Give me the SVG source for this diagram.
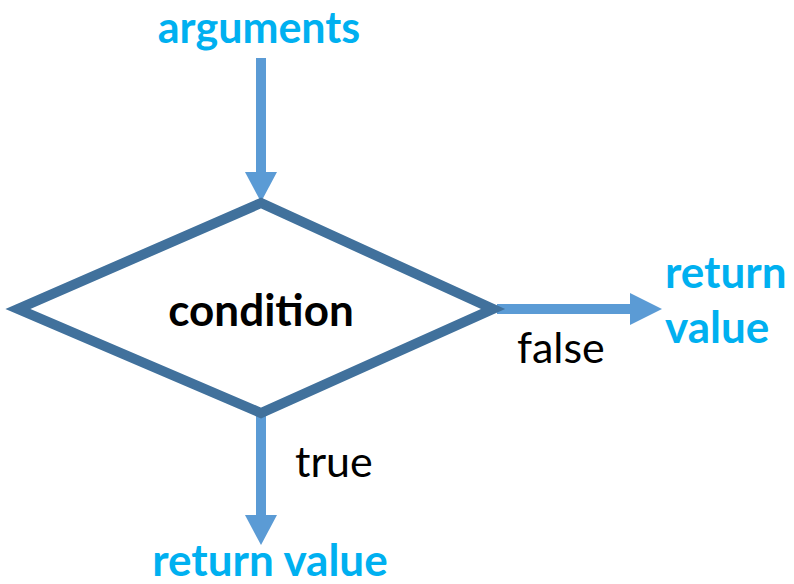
<svg xmlns="http://www.w3.org/2000/svg" width="794" height="584" viewBox="0 0 794 584">
<style>
.lbl{font-family:Lato,"Open Sans","Liberation Sans",sans-serif;font-weight:bold;fill:#00B0F0;font-size:44px}
.edge{font-family:Lato,"Open Sans","Liberation Sans",sans-serif;fill:#000;font-size:43px}
.cond{font-family:Lato,"Open Sans","Liberation Sans",sans-serif;font-weight:bold;fill:#000;font-size:44px}
.conn{stroke:#5B9BD5;stroke-width:10;fill:none}
.head{fill:#5B9BD5}
</style>
<rect width="794" height="584" fill="#fff"/>
<g id="connectors">
<line class="conn" x1="261" y1="58" x2="261" y2="174"/>
<polygon class="head" points="245,172 277,172 261,202"/>
<line class="conn" x1="497" y1="309" x2="632" y2="309"/>
<polygon class="head" points="630,293 630,325 662,309"/>
<line class="conn" x1="261" y1="415" x2="261" y2="517"/>
<polygon class="head" points="245,515 277,515 261,545"/>
<text class="edge" x="517" y="363">false</text>
<text class="edge" x="295" y="477">true</text>
</g>
<g id="condition">
<polygon points="261,203 18,309 261,413 493,309" fill="#fff" stroke="#41719C" stroke-width="10" stroke-linejoin="miter"/>
<text class="cond" x="261" y="326" text-anchor="middle">condition</text>
</g>
<g id="arguments">
<text class="lbl" x="259" y="43" text-anchor="middle" style="font-size:43px">arguments</text>
</g>
<g id="return-false">
<text class="lbl" x="665" y="288">return</text>
<text class="lbl" x="665" y="343">value</text>
</g>
<g id="return-true">
<text class="lbl" x="270" y="576" text-anchor="middle">return value</text>
</g>
</svg>
